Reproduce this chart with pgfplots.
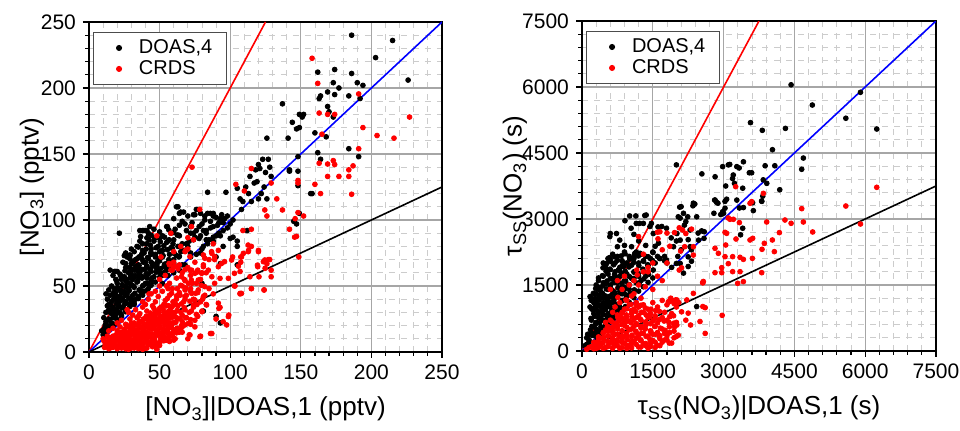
\documentclass[border=0pt]{standalone}
\usepackage{pgfplots}
\pgfplotsset{compat=1.18}
\usepackage{fontspec}
\setmainfont{Liberation Sans}
\pgfplotsset{
  panel/.style={
    scale only axis,
    height=165pt,
    xmin=0, ymin=0,
    axis line style={line width=0.9pt},
    tick align=outside, tick pos=left,
    minor tick num=4,
    major tick length=3pt, minor tick length=1.8pt,
    every tick/.style={black, line width=0.6pt},
    grid=both,
    major grid style={draw=black!35, line width=0.6pt},
    minor grid style={draw=black!20, dashed, line width=0.4pt},
    tick label style={font=\fontsize{10.5}{12}\selectfont},
    label style={font=\fontsize{13}{15}\selectfont},
    /pgf/number format/assume math mode=true,
    /pgf/number format/1000 sep={},
    scaled ticks=false,
    xlabel style={at={(axis description cs:0.5,0)}, anchor=base, yshift=-32pt},
    legend cell align=left,
    legend image code/.code={\path[draw=none,fill=none] (0cm,0cm) -- (0.56cm,0cm); \draw[#1] plot coordinates {(0.28cm,0cm)};},
    legend style={at={(0.01,0.97)}, anchor=north west, draw=black!70, line width=0.6pt,
      fill=white, font=\fontsize{10}{10}\selectfont, inner xsep=5pt, inner ysep=2.5pt,
      row sep=0pt, nodes={inner ysep=1pt},
      /tikz/every odd column/.append style={column sep=0pt}},
  },
  bk/.style={only marks, mark=*, mark size=1.2pt, black},
  rd/.style={only marks, mark=*, mark size=1.2pt, red},
}
\begin{document}
\begin{tikzpicture}
\begin{axis}[panel, width=176.5pt, xmax=250, ymax=250,
  xtick={0,50,...,250}, ytick={0,50,...,250},
  xlabel={[NO\textsubscript{3}]|DOAS,1 (pptv)},
  ylabel={[NO\textsubscript{3}] (pptv)},
  ylabel style={at={(axis description cs:0,0.5)}, anchor=center, yshift=28.5pt}]
\addplot[bk] coordinates {
(11,18)(13,20)(15,19)(12,23)(14,25)(16,22)(18,21)(17,26)(20,24)(19,28)(10,13)(12,15)(9,16)
(12,30)(14,32)(13,35)(16,29)(18,31)(20,33)(22,30)(15,36)(21,35)(24,34)(23,28)(26,32)(25,36)(17,34)
(13,40)(15,43)(16,38)(18,41)(20,39)(22,42)(24,40)(26,38)(28,41)(30,39)(19,45)(23,45)(27,44)(31,43)(33,40)(35,42)(17,44)(21,37)(29,36)(32,36)
(14,47)(16,50)(18,48)(20,52)(22,47)(24,50)(26,54)(28,48)(30,51)(32,49)(34,53)(36,47)(38,50)(40,52)(42,48)(25,46)(19,55)(23,55)(27,52)(31,55)(35,56)(39,46)(44,54)(37,45)
(17,58)(20,61)(18,61)(22,59)(25,57)(28,60)(30,63)(32,58)(34,62)(36,60)(38,57)(40,63)(42,59)(44,61)(46,57)(48,63)(50,60)(52,58)(26,64)(33,65)(45,65)(29,56)(55,62)(41,56)
(24,68)(27,72)(25,73)(29,73)(30,67)(33,70)(35,66)(37,73)(40,68)(42,71)(45,67)(47,74)(50,69)(52,72)(55,67)(57,74)(60,70)(62,73)(39,75)(44,74)(48,66)(58,66)
(30,78)(34,80)(38,77)(41,82)(44,78)(46,84)(49,80)(52,77)(55,83)(58,79)(60,85)(63,80)(66,82)(68,77)(71,84)(74,85)(36,84)(65,76)
(36,92)(39,92)(43,95)(42,90)(48,87)(52,88)(55,95)(58,90)(61,93)(64,88)(66,99)(69,92)(72,90)(75,87)(78,95)(81,92)(83,90)(86,94)(88,87)(91,96)(46,93)(50,91)
(60,101)(62,110)(65,106)(70,103)(74,104)(76,108)(79,105)(82,100)(84,105)(86,99)(88,105)(90,102)(92,98)(94,104)(96,101)(98,103)(80,97)(73,98)(68,97)(100,97)(102,100)
(21.5,90)(12,44)(25.5,73.5)(29,73.5)(15,62)
(52,52)(56,58)(60,60)(64,62)(68,66)(72,72)(76,74)(80,78)(84,82)(90,88)(95,92)(98,94)(70,80)(78,86)(85,85)(92,90)
(80,52)(90,27)(93,22)(81,31)(105,66)
(11,14.5)(11.5,20.5)(10.5,26)(14,18.5)(14.5,24)(13.5,30.5)(14,36)(17,20.5)(17.5,27)(16.5,33)(17,39.5)(17.5,45)
(20,24.5)(20.5,30)(19.5,36.5)(20,42)(20.5,48.5)(19.5,54)(23,27)(23.5,33.5)(22.5,39)(23,45.5)(23.5,51)(22.5,57.5)
(26,30.5)(26.5,37)(25.5,43)(26,49.5)(26.5,55)(25.5,61.5)(26,67)(29,34.5)(29.5,40)(28.5,46.5)(29,52)(29.5,58.5)(28.5,64)(29,70.5)
(32,37)(32.5,44.5)(31.5,50)(32,56.5)(32.5,62)(31.5,68.5)(32,76)(35,40.5)(35.5,47)(34.5,53.5)(35,59)(35.5,65.5)(34.5,71)(35,79.5)
(38,43)(38.5,50.5)(37.5,56)(38,62.5)(38.5,68)(37.5,74.5)(38,82)(41,46.5)(41.5,52)(40.5,59.5)(41,65)(41.5,71.5)(40.5,78)(41,86.5)
(44,50.5)(44.5,56)(43.5,62.5)(44,68)(44.5,74.5)(43.5,81)(44,88.5)(47,53)(47.5,60.5)(46.5,66)(47,72.5)(47.5,79)(46.5,86.5)
(50,56.5)(50.5,63)(49.5,70.5)(50,76)(50.5,83.5)(53,60)(53.5,66.5)(52.5,73)(53,80.5)(53.5,87)
(56,64.5)(56.5,70)(55.5,77.5)(56,84)(56.5,92.5)(60,67)(60.5,74.5)(59.5,82)(60,90.5)(64,72.5)(64.5,80)(63.5,88.5)(64,96)
(186,240)(215,236)(203,223)(226,206)(162,212)(174,214)(186,211)(173,204)(177,200)(190,204)(194,202)(169,197)(174,195)(163,192)(164,194)(184,194)(192,192)(169,186)(170,182)(173,178)(149,180)(152,180)(151,178)(137,188)(144,174)(147,169)(149,170)(126,162)(141,162)(160,166)(168,163)(162,151)(164,146)(184,154)(191,148)(148,148)(142,137)(157,120)(84,121)(97,121)
(120,142)(123,146)(127,146)(128,140)(125,136)(129,133)(121,139)(114,133)(119,129)(117,128)(111,125)(113,120)(107,116)(109,114)(115,114)(120,116)(126,116)(122,120)(108,108)(124,125)(118,138)
(67,106)(75,104)(82,103)(86,105)(88,103)(93,101)(95,98)(88,95)(83,92)(76,92)(72,95)(74,90)(79,88)(83,85)(88,84)(93,88)(95,80)(100,86)(81,80)(79,75)(69,82)(67,77)(72,75)(90,72)(93,67)(102,87)(105,84)
(145,99)(147,97)(149,105)(148,126)(148,137)(142,138)(158,120)(105,124)(112,92)(105,80)
(63,110)(64,105)(55.5,95)(38,92)(41,92)(36.6,87.4)(42.5,85)(50,86)(56.7,85)(62.5,88.6)(26,75)(28.3,72)(35.4,72)(37.8,70)(43.7,75)(47,72)(52,77)(59,78.5)(48.4,68)(56.7,68)(63.7,72)(35.4,63)(30.7,62)(19,61)(41,65)(53,64.6)(66,66)
};
\addlegendentry{DOAS,4}
\addplot[rd] coordinates {
(12,4)(15,3)(18,5)(20,3)(22,6)(25,4)(27,7)(30,3)(32,5)(35,4)(37,7)(40,3)(42,6)(45,4)(47,7)(50,5)(16,7)(24,8)(34,8)(44,8)(28,2)(38,2)(48,2)(14,6)
(10,10)(13,12)(16,11)(19,13)(21,9)(24,12)(26,10)(29,13)(31,9)(33,12)(36,10)(39,13)(41,9)(43,12)(46,10)(49,13)(52,11)(55,9)(58,12)(61,10)(18,9)(23,14)(28,10)(35,14)(40,11)(47,14)(53,14)(57,8)
(14,16)(17,18)(20,16)(22,19)(25,17)(28,15)(30,19)(33,16)(35,20)(38,17)(40,15)(43,18)(45,20)(48,16)(50,19)(53,17)(56,15)(58,20)(61,17)(64,15)(66,19)(27,20)(37,14)(31,14)
(20,22)(23,24)(26,21)(29,25)(32,22)(34,26)(37,23)(40,21)(42,25)(45,23)(47,26)(50,22)(52,25)(55,23)(58,26)(60,22)(63,25)(66,23)(69,26)(72,21)(75,24)(30,22)(44,21)(57,21)
(28,30)(31,28)(33,32)(36,29)(38,34)(41,31)(43,27)(46,33)(48,29)(51,34)(53,30)(56,28)(58,33)(61,30)(63,35)(66,28)(68,32)(71,30)(74,34)(77,27)(80,31)(35,27)(45,35)(55,35)(60,27)
(38,38)(42,40)(44,44)(47,38)(49,42)(52,46)(54,39)(57,43)(59,48)(62,40)(64,45)(67,38)(69,43)(72,48)(74,40)(77,45)(79,38)(82,43)(85,48)(50,50)(56,48)(66,50)(47,46)(40,36)
(50,55)(54,58)(57,52)(59,62)(62,56)(64,66)(66,60)(68,54)(70,64)(72,58)(75,68)(77,62)(79,55)(81,66)(83,60)(85,70)(87,57)(60,68)(73,52)(55,50)
(11,3.5)(11.5,6)(10.5,8.5)(14,2.5)(14.5,5.5)(13.5,8)(14,10.5)(17,3.5)(17.5,6)(16.5,9.5)(17,12)
(20,2.5)(20.5,5)(19.5,8.5)(20,11)(20.5,14.5)(23,3)(23.5,6.5)(22.5,9)(23,12.5)(23.5,15)
(26,2.5)(26.5,5.5)(25.5,8)(26,11.5)(26.5,14)(25.5,17.5)(29,4.5)(29.5,7)(28.5,10.5)(29,13)(29.5,16.5)(28.5,19)
(32,3)(32.5,6.5)(31.5,9)(32,12.5)(32.5,15)(31.5,18.5)(32,21)(35,2.5)(35.5,5)(34.5,8.5)(35,11)(35.5,14.5)(34.5,17)(35,20.5)(35.5,23)
(38,4.5)(38.5,7)(37.5,10.5)(38,13)(38.5,16.5)(37.5,19)(38,22.5)(38.5,25)(41,3)(41.5,6.5)(40.5,9)(41,12.5)(41.5,15)(40.5,18.5)(41,21)(41.5,24.5)(40.5,27)
(44,5.5)(44.5,8)(43.5,11.5)(44,14)(44.5,17.5)(43.5,20)(44,23.5)(44.5,26)(43.5,29.5)(47,4.5)(47.5,7)(46.5,10.5)(47,13)(47.5,16.5)(46.5,19)(47,22.5)(47.5,25)(46.5,28.5)(47,31)
(50,6.5)(50.5,9)(49.5,12.5)(50,15)(50.5,18.5)(49.5,21)(50,24.5)(50.5,27)(49.5,30.5)(50,33)(53,8.5)(53.5,11)(52.5,14.5)(53,17)(53.5,20.5)(52.5,23)(53,26.5)(53.5,29)(52.5,32.5)(53,36)
(56,10.5)(56.5,13)(55.5,16.5)(56,19)(56.5,22.5)(55.5,25)(56,30.5)(56.5,35)(55.5,40.5)(59,12.5)(59.5,15)(58.5,18.5)(59,22)(59.5,26.5)(58.5,30)(59,34.5)(59.5,38)(58.5,44.5)
(62,14.5)(62.5,18)(61.5,22.5)(62,26)(62.5,31.5)(61.5,36)(62,42.5)(62.5,48)(65,16.5)(65.5,20)(64.5,25.5)(65,30)(65.5,36.5)(64.5,43)(65,50.5)(65.5,57)
(68,20.5)(68.5,26)(67.5,33.5)(68,40)(68.5,48.5)(67.5,55)(68,62.5)(72,24.5)(72.5,31)(71.5,38.5)(72,46)(72.5,54.5)(71.5,62)(76,28.5)(76.5,36)(75.5,44.5)(76,52)(76.5,60.5)(80,30.5)(80.5,40)(79.5,50.5)(80,60)
(58,62)(61,65)(63,63)(57,66)(42.5,44)(27,32)(58,90)(60,76)(56.7,67)(60,64.6)(68.5,77)(48,88)(51,72)(70,78)(74,85)(65,80)
(60,9)(86,14)(97.5,20.5)(79,12)(75,19)(90,25)(92,33)(95,23)(83,36)(88,44)(99,28)(66,15)(70,10)(103,50)(107,44)(115,48)(124,47)(71,13)
(158,222.5)(191,195.5)(162,203.5)(163,181)(169,180)(174,180)(194,170)(204,164)(216,162)(227,178)(165,165)(191,154)(187,141)(184,138)(163,143)(169,142.4)(173,145)(174,142)(169,133)(177,133)(184,133)(186,119.5)(164,120)(160,127)(148,130)(148,128)
(73,140)(104,127)(110,122)(115,139)(129,128)(133,116)(137,107.6)(124.5,107.6)(126,103)(148,105.6)(152,103)(146,101)(142,93)(145.6,87)(147,87.6)(148.6,72)
(109,92)(115,93)(112.7,81)(120,77)(113,77)(107.5,72)(101.7,72)(127,70)(128,70)(124.5,69.7)(126,66.8)(119.3,65.8)(107.5,68)(93.8,67)(89,70)(86.8,76)(88,82)(78.5,108)(72.6,95)(70,86.6)
(124.7,63.4)(119.5,64.6)(120.4,57)(114,57)(107,61)(112.8,76)(120,76)(115,80)(123.5,68.4)(129,62)(129,57)(124,47)(115,48)(107,44.4)(103.4,50)(98.7,55.8)(103,59.6)(101,69.7)(96,68.4)(91.6,64.6)(105.8,65)(108,72)(109.3,74.7)(92.8,55.8)(89,52)(84.5,62)(82,71)(87,74.7)(89,72.2)(91.6,77)(81,64.6)(79.8,59.6)(77.4,54.5)(75,59.6)(72.7,62)(70.4,52)(68,47)(68,42)(72.7,44.4)(77.4,47)(82,49.5)(75,39.4)(81,42)(83.3,35.6)(91.6,37)(92.8,33.8)(98.7,26.8)(87,14)(70.4,21.7)(74,35.6)(71.5,12.9)(78.6,11.6)(108,44.4)(68,76)(71.5,72.2)(81,73.5)
};
\addlegendentry{CRDS}
\addplot[red, line width=0.8pt, forget plot] coordinates {(0,0)(125,250)};
\addplot[blue, line width=0.8pt, forget plot] coordinates {(0,0)(250,250)};
\addplot[black, line width=0.8pt, forget plot] coordinates {(0,0)(250,125)};
\end{axis}
\begin{axis}[panel, xshift=246.5pt, yshift=0.5pt, width=177pt, xmax=7500, ymax=7500,
  xtick={0,1500,...,7500}, ytick={0,1500,...,7500},
  xlabel={τ\textsubscript{SS}(NO\textsubscript{3})|DOAS,1 (s)},
  ylabel={τ\textsubscript{SS}(NO\textsubscript{3}) (s)},
  ylabel style={at={(axis description cs:0,0.5)}, anchor=center, yshift=33.5pt}]
\addplot[bk] coordinates {
(100,300)(150,250)(200,400)(250,350)(300,500)(350,450)(400,550)(250,550)(180,480)(120,380)(450,520)(500,600)(320,300)(380,380)(100,150)(150,200)(420,450)(550,650)(60,120)
(200,700)(250,850)(300,650)(350,900)(400,750)(450,950)(500,700)(550,850)(600,1000)(650,800)(700,950)(750,900)(800,1000)(300,950)(400,1000)(170,1000)(230,930)(270,1080)(500,950)(650,700)(350,760)(450,830)(560,760)(620,900)(700,860)
(200,1200)(250,1100)(300,1300)(350,1150)(400,1350)(450,1050)(500,1250)(550,1400)(600,1100)(650,1300)(700,1200)(750,1050)(800,1350)(850,1150)(900,1300)(950,1250)(1000,1400)(1050,1300)(240,1310)(170,1235)(350,1400)(450,1200)(550,1150)(600,1250)(750,1250)(500,1100)(400,1200)(300,1120)(680,1100)(850,1300)
(300,1500)(350,1600)(400,1450)(450,1700)(500,1550)(550,1750)(600,1500)(650,1650)(700,1800)(750,1550)(800,1700)(850,1450)(900,1600)(950,1750)(1000,1500)(1050,1650)(1100,1800)(1150,1550)(1200,1700)(1250,1600)(1300,1800)(1350,1700)(520,1540)(630,1390)(800,1830)(880,1920)(700,1600)(600,1650)(450,1550)(900,1450)(1100,1650)(1200,1520)
(450,2000)(500,1900)(550,2100)(600,1850)(650,2200)(700,2000)(750,2150)(800,1900)(850,2050)(900,2250)(950,2000)(1000,2150)(1050,1950)(1100,2100)(1150,2250)(1200,2000)(1250,2200)(1300,2050)(1350,2150)(1400,1950)(1450,2100)(1500,2250)(1550,2000)(1600,2150)(1650,2100)(1750,2050)(1800,2000)(1900,1900)(2000,1990)(2080,1990)(2150,1770)(2250,2140)(2290,2370)(580,2120)(590,2080)(750,2370)(1050,2370)(1120,2220)(1230,2220)(1640,2110)(1550,2380)
(200,360)(210,560)(190,740)(205,960)(195,1150)(280,410)(290,620)(270,790)(285,1010)(275,1190)(290,1420)
(360,460)(370,640)(350,860)(365,1040)(355,1260)(370,1440)(350,1660)(440,510)(450,690)(430,910)(445,1090)(435,1310)(450,1490)(430,1710)(445,1890)
(520,610)(530,790)(510,1010)(525,1190)(515,1410)(530,1590)(510,1810)(525,1990)(600,660)(610,840)(590,1060)(605,1240)(595,1460)(610,1640)(590,1860)(605,2040)
(680,760)(690,940)(670,1160)(685,1340)(675,1560)(690,1740)(670,1960)(685,2140)(760,860)(770,1040)(750,1260)(765,1440)(755,1660)(770,1840)(750,2060)
(840,960)(850,1140)(830,1360)(845,1540)(835,1760)(850,1940)(830,2160)(920,1010)(930,1190)(910,1410)(925,1590)(915,1810)(930,1990)(910,2210)
(1000,1110)(1010,1290)(990,1510)(1005,1690)(995,1910)(1010,2090)(1100,1210)(1110,1390)(1090,1610)(1105,1790)(1095,2010)(1110,2190)
(1200,1360)(1210,1540)(1190,1760)(1205,1940)(1195,2160)(1300,1460)(1310,1640)(1290,1860)(1305,2040)(1400,1560)(1410,1740)(1390,1960)(1405,2140)(1500,1660)(1510,1840)(1490,2060)(1505,2240)
(600,2670)(590,2600)(730,2670)(800,2520)(910,2960)(1010,3070)(1140,3070)(1330,3080)(1150,2900)(1220,2900)(1470,2900)(1610,2820)(1040,2790)(1360,3090)(1300,2900)(1440,2830)(1510,2670)(1620,2450)(1690,2830)(1790,2790)(2010,2670)(2080,2520)(1940,2370)(1890,2570)(2000,2500)(2250,2530)(2100,2300)(2320,2300)(2460,2680)(2320,2040)(2250,1920)(2030,2150)(1750,2150)(1790,2070)(2590,2710)(2470,2520)(2200,2940)(2290,2750)(1200,2500)(1350,2400)(900,2400)(1100,2650)
(2000,4230)(2100,3280)(2150,3130)(2080,3020)(2360,3360)(2430,3050)(2070,3270)(2240,3050)(2350,3300)(2390,3340)(2040,3050)(2170,2860)(2810,3430)(2880,3360)(2430,1010)
(4430,6050)(4880,5590)(5900,5880)(5590,5290)(6245,5045)(3570,5190)(3820,5015)(4310,5060)(4035,4575)(4690,4385)(4655,4130)(3880,4210)(4085,4210)(3915,3810)(3840,3890)(4190,3665)(3805,3410)(2540,4025)(2820,3960)(2980,4190)(3100,4230)(3130,4240)(3280,4190)(3330,4160)(3420,4300)(3205,4000)(3190,3920)(3230,3810)(3045,3750)(3545,4050)(3595,4050)(3405,3700)(2820,3430)(2850,3380)(2795,3130)(2980,3165)(3065,3450)(3030,3400)(3030,3245)(3000,3130)(2940,3100)(3280,3430)(3335,3250)(3420,3260)(3630,3190)(3615,3370)(3810,3400)(3830,3520)(3405,2790)(3360,2640)(2535,2730)(2585,2560)
};
\addlegendentry{DOAS,4}
\addplot[rd] coordinates {
(100,40)(150,80)(250,60)(300,150)
(200,100)(300,60)(400,150)(500,80)(600,200)(700,120)(800,60)(900,180)(1000,100)(1100,220)(1200,90)(1300,170)(1400,60)(1500,240)(1600,130)(1700,200)(350,250)(450,280)(550,120)(650,260)(750,220)(850,280)(950,60)(1050,160)(1150,290)(1250,250)(1350,120)(1450,180)(1550,80)(1650,280)(250,200)(1800,250)(1900,180)
(350,320)(450,400)(550,350)(600,520)(700,380)(750,560)(800,330)(850,450)(900,580)(950,350)(1000,480)(1050,330)(1100,560)(1150,420)(1200,350)(1250,520)(1300,400)(1350,580)(1400,340)(1450,460)(1500,380)(1550,560)(1600,420)(1650,350)(1700,500)(1750,400)(1850,550)(1950,450)(500,480)(650,450)(1800,350)(2000,330)
(500,650)(600,700)(700,620)(750,820)(800,700)(850,880)(900,650)(950,780)(1000,680)(1050,850)(1100,720)(1150,620)(1200,800)(1250,700)(1300,880)(1350,650)(1400,760)(1450,850)(1500,680)(1550,800)(1600,640)(1700,760)(1800,700)(1900,850)(650,880)(2000,650)
(700,1000)(800,1100)(900,950)(950,1150)(1000,1050)(1050,1250)(1100,950)(1150,1100)(1200,1000)(1250,1200)(1300,1050)(1400,950)(1500,1100)(1600,1000)(1700,1150)(1800,1050)(1900,1150)(2000,1000)(2050,1100)(1850,1120)(1950,1080)(1980,1160)(1880,1200)
(250,50)(260,150)(350,80)(340,200)(360,300)(450,60)(440,180)(460,300)(450,420)(550,100)(540,220)(560,340)(550,460)(540,560)
(650,60)(660,170)(640,300)(650,420)(660,540)(640,660)(750,120)(740,250)(760,380)(750,500)(740,640)(760,760)
(850,80)(840,200)(860,330)(850,460)(840,600)(860,740)(850,860)(950,130)(960,260)(940,400)(950,540)(960,680)(940,820)(950,960)
(1050,70)(1040,210)(1060,360)(1050,500)(1040,640)(1060,780)(1050,920)(1040,1060)(1150,150)(1160,300)(1140,450)(1150,600)(1160,760)(1140,900)(1150,1050)
(1250,90)(1240,240)(1260,400)(1250,560)(1240,720)(1260,880)(1250,1040)(1350,170)(1360,330)(1340,500)(1350,660)(1360,820)(1340,980)
(1450,100)(1440,260)(1460,440)(1450,620)(1440,780)(1460,950)(1550,200)(1560,380)(1540,560)(1550,740)(1560,920)
(1650,120)(1640,320)(1660,520)(1650,720)(1640,900)(1750,250)(1760,470)(1740,680)(1750,880)(1850,180)(1860,420)(1840,650)(1950,300)(1960,550)(1940,800)
(600,1400)(750,1600)(900,1700)(1000,1500)(1100,1300)(1200,1500)(1300,1800)(1400,1900)(1500,1400)(1600,1700)(1700,1600)(1800,2000)(1500,2000)(1700,2300)(1300,2200)(1100,1600)(850,1400)(1200,2600)(1600,2700)(1800,2680)(1960,2690)(2060,2800)(2130,2750)(2200,2670)(2320,2770)(1650,2710)(1610,2550)(1860,2380)(2090,2270)(2175,2370)(2360,2370)(2360,2180)(2060,1840)(2110,1890)(1400,1800)(1170,1730)(760,1220)(800,780)(1340,1460)(1160,1840)(930,1160)
(2220,1160)(2360,1310)(2250,860)(2300,590)(2560,1010)(2610,400)(2500,670)(2010,590)(1860,780)(1940,630)(2040,360)(1790,400)(2570,1580)(2110,890)(2010,1160)(1830,1120)(2200,700)(2560,1550)(2610,985)(2970,810)
(6245,3720)(5590,3295)(5900,2886)(4655,3235)(4887,2705)(4690,2932)(4430,2902)(4300,2977)(3913,2932)(4182,2690)(4033,2523)(4075,2258)(3863,2447)(3814,2311)(3807,1780)(3616,2561)(3560,2523)(3595,3395)(3560,3357)(3842,3583)(3256,3735)(3334,2918)(3207,2993)(3136,2993)(3100,3023)(3065,2674)(3030,2697)(3263,2545)(3045,2409)(2818,2333)(2889,2220)(3030,2144)(3192,2144)(3348,2129)(3419,2083)(3610,2106)(3100,1985)(2960,1894)(2818,1780)(2960,1780)(3192,1803)(3348,1803)(3298,1538)(3419,1576)(2557,1553)
};
\addlegendentry{CRDS}
\addplot[red, line width=0.8pt, forget plot] coordinates {(0,0)(3750,7500)};
\addplot[blue, line width=0.8pt, forget plot] coordinates {(0,0)(7500,7500)};
\addplot[black, line width=0.8pt, forget plot] coordinates {(0,0)(7500,3750)};
\end{axis}
\pgfresetboundingbox
\path[use as bounding box] (-44.5pt,-39.5pt) rectangle (435.5pt,176pt);
\end{tikzpicture}
\end{document}
